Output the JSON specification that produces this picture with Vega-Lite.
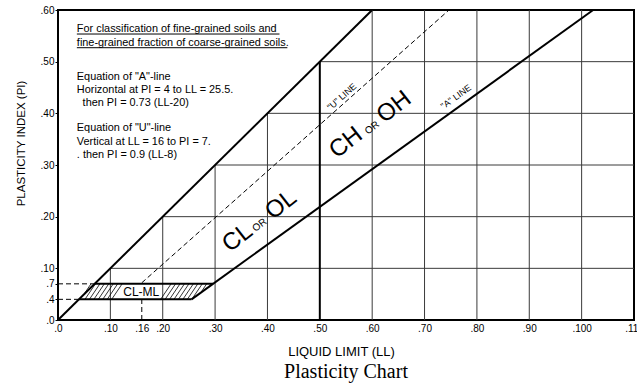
{
  "$schema": "https://vega.github.io/schema/vega-lite/v6.json",
  "width": 576,
  "height": 310,
  "autosize": "none",
  "padding": {"left": 58, "top": 10, "right": 3, "bottom": 66},
  "background": "white",
  "title": {"text": "Plasticity Chart", "orient": "bottom", "anchor": "middle", "font": "Liberation Serif", "fontSize": 20, "fontWeight": "normal", "color": "black", "offset": 4},
  "datasets": {
    "grid": [
      {"x": 10, "y": 0, "x2": 10, "y2": 10},
      {"x": 20, "y": 0, "x2": 20, "y2": 20},
      {"x": 30, "y": 0, "x2": 30, "y2": 30},
      {"x": 40, "y": 0, "x2": 40, "y2": 40},
      {"x": 60, "y": 0, "x2": 60, "y2": 60},
      {"x": 70, "y": 0, "x2": 70, "y2": 60},
      {"x": 80, "y": 0, "x2": 80, "y2": 60},
      {"x": 90, "y": 0, "x2": 90, "y2": 60},
      {"x": 100, "y": 0, "x2": 100, "y2": 60},
      {"x": 10, "y": 10, "x2": 110, "y2": 10},
      {"x": 20, "y": 20, "x2": 110, "y2": 20},
      {"x": 30, "y": 30, "x2": 110, "y2": 30},
      {"x": 40, "y": 40, "x2": 110, "y2": 40},
      {"x": 50, "y": 50, "x2": 110, "y2": 50}
    ],
    "hatch": [
      {"x": 4.9, "y": 4.9, "x2": 6.3, "y2": 7},
      {"x": 5.15, "y": 4, "x2": 7.15, "y2": 7},
      {"x": 6.0, "y": 4, "x2": 8.0, "y2": 7},
      {"x": 6.85, "y": 4, "x2": 8.85, "y2": 7},
      {"x": 7.7, "y": 4, "x2": 9.7, "y2": 7},
      {"x": 8.55, "y": 4, "x2": 10.55, "y2": 7},
      {"x": 9.4, "y": 4, "x2": 11.4, "y2": 7},
      {"x": 10.25, "y": 4, "x2": 12.25, "y2": 7},
      {"x": 19.6, "y": 4, "x2": 21.6, "y2": 7},
      {"x": 20.45, "y": 4, "x2": 22.45, "y2": 7},
      {"x": 21.3, "y": 4, "x2": 23.3, "y2": 7},
      {"x": 22.15, "y": 4, "x2": 24.15, "y2": 7},
      {"x": 23.0, "y": 4, "x2": 25.0, "y2": 7},
      {"x": 23.85, "y": 4, "x2": 25.85, "y2": 7},
      {"x": 24.7, "y": 4, "x2": 26.7, "y2": 7},
      {"x": 25.55, "y": 4, "x2": 27.55, "y2": 7},
      {"x": 27.27, "y": 5.31, "x2": 28.4, "y2": 7},
      {"x": 28.93, "y": 6.52, "x2": 29.25, "y2": 7}
    ],
    "dashed": [
      {"x": 0, "y": 7, "x2": 7, "y2": 7},
      {"x": 0, "y": 4, "x2": 4, "y2": 4},
      {"x": 16, "y": 0, "x2": 16, "y2": 4},
      {"x": 16, "y": 7.2, "x2": 74.67, "y2": 60}
    ],
    "thick": [
      {"x": 0, "y": 0, "x2": 60, "y2": 60},
      {"x": 25.5, "y": 4, "x2": 102.2, "y2": 60},
      {"x": 4, "y": 4, "x2": 25.5, "y2": 4},
      {"x": 7, "y": 7, "x2": 29.6, "y2": 7},
      {"x": 50, "y": 0, "x2": 50, "y2": 50}
    ],
    "underline": [
      {"x": 3.6, "y": 55.35, "x2": 42.3, "y2": 55.35},
      {"x": 3.6, "y": 52.7, "x2": 43.8, "y2": 52.7}
    ],
    "notes": [
      {"x": 3.6, "y": 56.3, "t": "For classification of fine-grained soils and"},
      {"x": 3.6, "y": 53.6, "t": "fine-grained fraction of coarse-grained soils."},
      {"x": 3.6, "y": 47.0, "t": "Equation of \"A\"-line"},
      {"x": 3.6, "y": 44.5, "t": "Horizontal at PI = 4 to LL = 25.5."},
      {"x": 4.7, "y": 42.0, "t": "then PI = 0.73 (LL-20)"},
      {"x": 3.6, "y": 37.2, "t": "Equation of \"U\"-line"},
      {"x": 3.6, "y": 34.4, "t": "Vertical at LL = 16 to PI = 7."},
      {"x": 3.6, "y": 31.9, "t": ". then PI = 0.9 (LL-8)"}
    ],
    "big": [
      {"x": 34.3, "y": 15.9, "t": "CL"},
      {"x": 42.6, "y": 22.3, "t": "OL"},
      {"x": 55.0, "y": 34.3, "t": "CH"},
      {"x": 64.2, "y": 41.2, "t": "OH"}
    ],
    "small": [
      {"x": 38.5, "y": 18.4, "t": "OR"},
      {"x": 60.0, "y": 37.2, "t": "OR"}
    ],
    "uline": [{"x": 54.2, "y": 43.2, "t": "\"U\" LINE"}],
    "aline": [{"x": 76.0, "y": 43.2, "t": "\"A\" LINE"}],
    "clml": [{"x": 15.9, "y": 5.5, "t": "CL-ML"}]
  },
  "encoding": {
    "x": {
      "field": "x", "type": "quantitative",
      "scale": {"domain": [0, 110], "nice": false, "zero": true},
      "axis": {
        "values": [0, 10, 16, 20, 30, 40, 50, 60, 70, 80, 90, 100, 110],
        "labelExpr": "'.' + datum.value",
        "labelFlush": false, "labelOverlap": false,
        "domain": false, "ticks": false, "tickSize": 0, "grid": false,
        "labelPadding": 3, "labelFontSize": 10,
        "title": "LIQUID LIMIT (LL)", "titleFontSize": 13, "titleFontWeight": "normal",
        "titleX": 283, "titleY": 31, "titleBaseline": "middle", "titleAlign": "center"
      }
    },
    "y": {
      "field": "y", "type": "quantitative",
      "scale": {"domain": [0, 60], "nice": false, "zero": true},
      "axis": {
        "values": [0, 4, 7, 10, 20, 30, 40, 50, 60],
        "labelExpr": "'.' + datum.value",
        "labelFlush": false, "labelOverlap": false,
        "domain": false, "ticks": true, "tickSize": 3, "grid": false,
        "labelPadding": 1, "labelFontSize": 10,
        "title": "PLASTICITY INDEX (PI)", "titleFontSize": 11.5, "titleFontWeight": "normal",
        "titleX": -37, "titleY": 133, "titleBaseline": "middle", "titleAlign": "center", "titleAngle": -90
      }
    }
  },
  "layer": [
    {"data": {"name": "grid"}, "mark": {"type": "rule", "color": "#3a3a3a", "strokeWidth": 1}, "encoding": {"x2": {"field": "x2"}, "y2": {"field": "y2"}}},
    {"data": {"name": "hatch"}, "mark": {"type": "rule", "color": "black", "strokeWidth": 0.8}, "encoding": {"x2": {"field": "x2"}, "y2": {"field": "y2"}}},
    {"data": {"name": "dashed"}, "mark": {"type": "rule", "color": "black", "strokeWidth": 1, "strokeDash": [5, 3]}, "encoding": {"x2": {"field": "x2"}, "y2": {"field": "y2"}}},
    {"data": {"name": "thick"}, "mark": {"type": "rule", "color": "black", "strokeWidth": 2}, "encoding": {"x2": {"field": "x2"}, "y2": {"field": "y2"}}},
    {"data": {"name": "underline"}, "mark": {"type": "rule", "color": "black", "strokeWidth": 1}, "encoding": {"x2": {"field": "x2"}, "y2": {"field": "y2"}}},
    {"data": {"name": "notes"}, "mark": {"type": "text", "align": "left", "baseline": "middle", "font": "Liberation Sans", "fontSize": 10.9, "color": "black"}, "encoding": {"text": {"field": "t"}}},
    {"data": {"name": "big"}, "mark": {"type": "text", "align": "center", "baseline": "middle", "font": "Liberation Sans", "fontSize": 24, "angle": -38, "color": "black"}, "encoding": {"text": {"field": "t"}}},
    {"data": {"name": "small"}, "mark": {"type": "text", "align": "center", "baseline": "middle", "font": "Liberation Sans", "fontSize": 10, "angle": -38, "color": "black"}, "encoding": {"text": {"field": "t"}}},
    {"data": {"name": "uline"}, "mark": {"type": "text", "align": "center", "baseline": "middle", "font": "Liberation Sans", "fontSize": 9, "angle": -41.5, "color": "black"}, "encoding": {"text": {"field": "t"}}},
    {"data": {"name": "aline"}, "mark": {"type": "text", "align": "center", "baseline": "middle", "font": "Liberation Sans", "fontSize": 9, "angle": -35.7, "color": "black"}, "encoding": {"text": {"field": "t"}}},
    {"data": {"name": "clml"}, "mark": {"type": "text", "align": "center", "baseline": "middle", "font": "Liberation Sans", "fontSize": 12, "color": "black"}, "encoding": {"text": {"field": "t"}}}
  ],
  "config": {
    "view": {"stroke": "black", "strokeWidth": 2},
    "axis": {"labelFont": "Liberation Sans", "titleFont": "Liberation Sans", "labelColor": "black", "titleColor": "black", "tickColor": "black"}
  }
}
